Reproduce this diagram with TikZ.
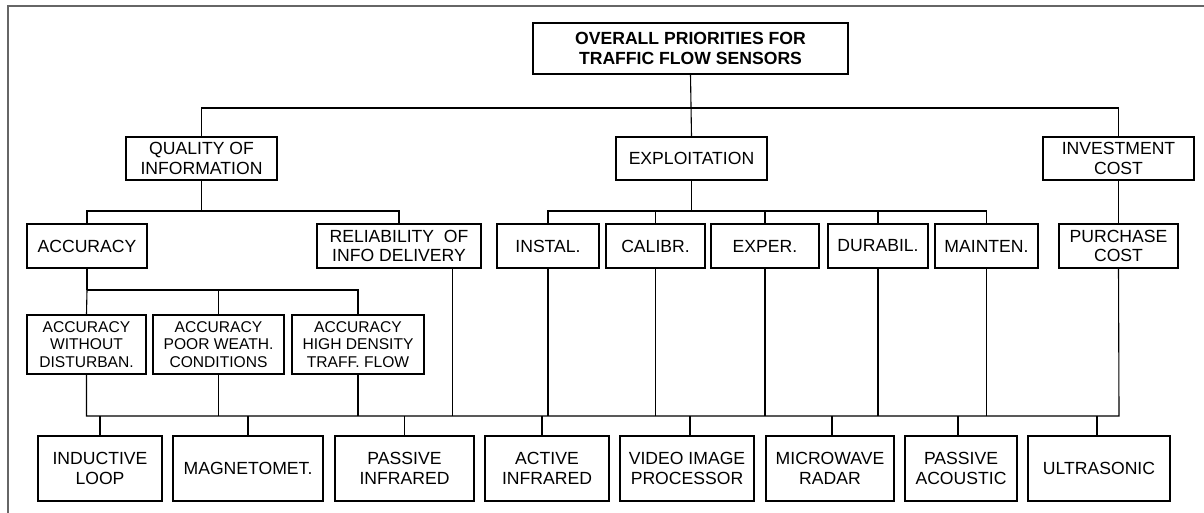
\documentclass[tikz,border=0pt]{standalone}
\usepackage{fontspec}
\setmainfont{Liberation Sans}
\begin{document}
\begin{tikzpicture}[x=1pt,y=-1pt,
  box/.style={draw=black, line width=1.1pt, inner sep=0pt, align=center,
    font=\fontsize{17.6}{19.5}\selectfont},
  smallbox/.style={box, font=\fontsize{15.6}{17.5}\selectfont},
  link/.style={draw=black, line width=1.1pt},
  frame/.style={draw=black!60, line width=2pt}]
\useasboundingbox (0,0) rectangle (1204,513);
\draw[frame] (8,513) -- (8,6) -- (1204,6);
% level 0
\node[box, minimum width=315pt, minimum height=51pt, font=\bfseries\fontsize{17.6}{20}\selectfont] (top) at (690.5,48.5) {OVERALL PRIORITIES FOR\\TRAFFIC FLOW SENSORS};
% level 1
\node[box, minimum width=151pt, minimum height=43pt] (qual) at (201.5,158.5) {QUALITY OF\\INFORMATION};
\node[box, minimum width=151pt, minimum height=43pt] (expl) at (691.5,158.5) {EXPLOITATION};
\node[box, minimum width=151pt, minimum height=43pt] (inv) at (1118.5,158.5) {INVESTMENT\\COST};
% level 2
\node[box, minimum width=120pt, minimum height=44pt] (acc) at (87,246) {ACCURACY};
\node[box, minimum width=164pt, minimum height=44pt] (rel) at (399,246) {RELIABILITY~ OF\\INFO DELIVERY};
\node[box, minimum width=102pt, minimum height=44pt] (instal) at (548,246) {INSTAL.};
\node[box, minimum width=99pt, minimum height=44pt] (calibr) at (655.5,246) {CALIBR.};
\node[box, minimum width=108pt, minimum height=44pt] (exper) at (765,246) {EXPER.};
\node[box, minimum width=100pt, minimum height=44pt] (durabil) at (878,246) {DURABIL.};
\node[box, minimum width=103pt, minimum height=44pt] (mainten) at (986.5,246) {MAINTEN.};
\node[box, minimum width=119pt, minimum height=44pt] (purch) at (1118.5,246) {PURCHASE\\COST};
% level 3
\node[smallbox, minimum width=119pt, minimum height=59pt] (accw) at (86.5,344.5) {ACCURACY\\WITHOUT\\DISTURBAN.};
\node[smallbox, minimum width=131pt, minimum height=59pt] (accp) at (218.5,344.5) {ACCURACY\\POOR WEATH.\\CONDITIONS};
\node[smallbox, minimum width=132pt, minimum height=59pt] (acch) at (358,344.5) {ACCURACY\\HIGH DENSITY\\TRAFF. FLOW};
% sensors
\node[box, minimum width=124pt, minimum height=65pt] (ind) at (100,468.5) {INDUCTIVE\\LOOP};
\node[box, minimum width=150pt, minimum height=65pt] (mag) at (248,468.5) {MAGNETOMET.};
\node[box, minimum width=139pt, minimum height=65pt] (pir) at (404.5,468.5) {PASSIVE\\INFRARED};
\node[box, minimum width=124pt, minimum height=65pt] (air) at (547,468.5) {ACTIVE\\INFRARED};
\node[box, minimum width=134pt, minimum height=65pt] (vip) at (687,468.5) {VIDEO IMAGE\\PROCESSOR};
\node[box, minimum width=128pt, minimum height=65pt] (mwr) at (830,468.5) {MICROWAVE\\RADAR};
\node[box, minimum width=112pt, minimum height=65pt] (pac) at (961,468.5) {PASSIVE\\ACOUSTIC};
\node[box, minimum width=142pt, minimum height=65pt] (ult) at (1099,468.5) {ULTRASONIC};
% connectors level 0 -> 1
\coordinate (j1) at (691,108);
\draw[link] (top.south) -- (expl.north);
\draw[link] (qual.north) |- (j1) -| (inv.north);
% level 1 -> 2
\coordinate (j2) at (201.5,211);
\draw[link] (qual.south) -- (j2);
\draw[link] (acc.north) |- (j2) -| (rel.north);
\coordinate (j3) at (691.5,211);
\draw[link] (expl.south) -- (j3);
\draw[link] (instal.north) |- (j3) -| (mainten.north);
\draw[link] (calibr.north) -- (calibr.north |- j3);
\draw[link] (exper.north) -- (exper.north |- j3);
\draw[link] (durabil.north) -- (durabil.north |- j3);
\draw[link] (inv.south) -- (purch.north);
% level 2 -> 3
\coordinate (j4) at (87,290);
\draw[link] (acc.south) -- (j4);
\draw[link] (j4) -- (accw.north);
\draw[link] (j4) -| (acch.north);
\draw[link] (accp.north) -- (accp.north |- j4);
% bottom bus
\coordinate (busL) at (86.5,416);
\coordinate (busR) at (1119,416);
\coordinate (relout) at ([xshift=-29pt]rel.south east);
\draw[link] (accw.south) -- (busL) -- (busR) -- (purch.south);
\draw[link] (accp.south) -- (accp.south |- busL);
\draw[link] (acch.south) -- (acch.south |- busL);
\draw[link] (relout) -- (relout |- busL);
\draw[link] (instal.south) -- (instal.south |- busL);
\draw[link] (calibr.south) -- (calibr.south |- busL);
\draw[link] (exper.south) -- (exper.south |- busL);
\draw[link] (durabil.south) -- (durabil.south |- busL);
\draw[link] (mainten.south) -- (mainten.south |- busL);
% stubs to sensors
\draw[link] (ind.north) -- (ind.north |- busL);
\draw[link] (mag.north) -- (mag.north |- busL);
\draw[link] (pir.north) -- (pir.north |- busL);
\draw[link] ([xshift=-5pt]air.north) -- ([xshift=-5pt]air.north |- busL);
\draw[link] ([xshift=3pt]vip.north) -- ([xshift=3pt]vip.north |- busL);
\draw[link] ([xshift=2pt]mwr.north) -- ([xshift=2pt]mwr.north |- busL);
\draw[link] ([xshift=-3pt]pac.north) -- ([xshift=-3pt]pac.north |- busL);
\draw[link] ([xshift=-2pt]ult.north) -- ([xshift=-2pt]ult.north |- busL);
\end{tikzpicture}
\end{document}
